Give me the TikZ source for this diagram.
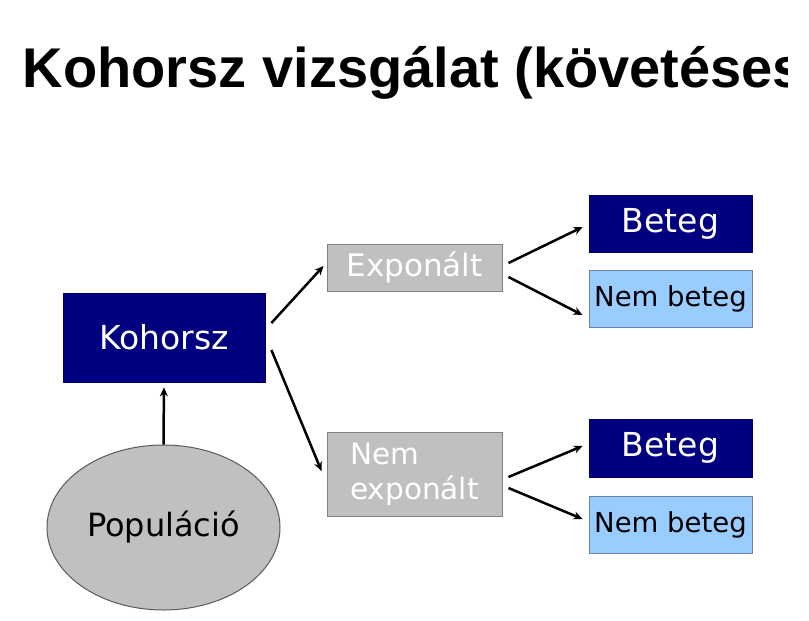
\documentclass[tikz,border=0pt]{standalone}
\usepackage{fontspec}
\setmainfont{DejaVu Sans}
\newfontfamily\titlefont{Liberation Sans}
\usetikzlibrary{shapes.geometric,arrows.meta}

\definecolor{navybox}{RGB}{0,0,128}
\definecolor{greybox}{RGB}{192,192,192}
\definecolor{greyedge}{RGB}{128,128,128}
\definecolor{skybox}{RGB}{153,204,255}
\definecolor{skyedge}{RGB}{110,130,160}
\definecolor{ovaledge}{RGB}{90,90,90}

\tikzset{
  navynode/.style={rectangle, fill=navybox, draw=navybox!80!black, line width=0.8pt,
    text=white, inner sep=0pt},
  greynode/.style={rectangle, fill=greybox, draw=greyedge, line width=1pt,
    text=white, inner sep=0pt},
  skynode/.style={rectangle, fill=skybox, draw=skyedge, line width=1pt,
    text=black, inner sep=0pt},
  link/.style={line width=2.5pt, -{Stealth[length=9pt,width=8pt]}},
}

\begin{document}
\begin{tikzpicture}[x=1pt, y=-1pt]
  \useasboundingbox (0,0) rectangle (809,621);
  \fill[white] (0,0) rectangle (809,621);

  % heading, cut off at the slide edge
  \begin{scope}
    \clip (0,0) rectangle (787,621);
    \node[anchor=base west, inner sep=0pt, font=\titlefont\bfseries\fontsize{56}{60}\selectfont]
      (title) at (22.7,87) {Kohorsz vizsgálat (követéses};
  \end{scope}

  % boxes
  \node[navynode, minimum width=202pt, minimum height=89pt,
        font=\fontsize{33}{38}\selectfont] (koh) at (164,337.5) {Kohorsz};
  \node[greynode, minimum width=175pt, minimum height=47pt,
        font=\fontsize{31}{36}\selectfont] (exp) at (414.5,267.5) {Exponált};
  \node[greynode, minimum width=175pt, minimum height=84pt, align=left,
        font=\fontsize{29.5}{35}\selectfont] (nexp) at (414.5,474) {Nem\\exponált};

  \node[navynode, minimum width=163pt, minimum height=57pt,
        font=\fontsize{33}{38}\selectfont] (b1) at (670.5,223.5) {Beteg};
  \node[skynode, minimum width=163pt, minimum height=57pt,
        font=\fontsize{27.5}{32}\selectfont] (nb1) at (670.5,298.5) {Nem beteg};
  \node[navynode, minimum width=163pt, minimum height=58pt,
        font=\fontsize{33}{38}\selectfont] (b2) at (670.5,448) {Beteg};
  \node[skynode, minimum width=163pt, minimum height=57pt,
        font=\fontsize{27.5}{32}\selectfont] (nb2) at (670.5,524.5) {Nem beteg};

  \node[ellipse, fill=greybox, draw=ovaledge, line width=1pt, inner sep=0pt,
        minimum width=233pt, minimum height=165pt,
        font=\fontsize{32}{38}\selectfont] (pop) at (163.5,527.5) {Populáció};

  % connectors
  \draw[link, shorten >=5pt] (pop.north) -- (koh.south);
  \draw[link] ([shift={(6,-14.5)}]koh.east) -- ([shift={(-3,-1.5)}]exp.west);
  \draw[link] ([shift={(6,12.5)}]koh.east) -- ([shift={(-5,-3)}]nexp.west);
  \draw[link] ([shift={(6,-4.5)}]exp.east) -- ([shift={(-6,3.5)}]b1.west);
  \draw[link] ([shift={(6,9.5)}]exp.east) -- ([shift={(-6,16.5)}]nb1.west);
  \draw[link] ([shift={(6,3)}]nexp.east) -- ([shift={(-6,-2)}]b2.west);
  \draw[link] ([shift={(6,14)}]nexp.east) -- ([shift={(-6,-5.5)}]nb2.west);
\end{tikzpicture}
\end{document}
